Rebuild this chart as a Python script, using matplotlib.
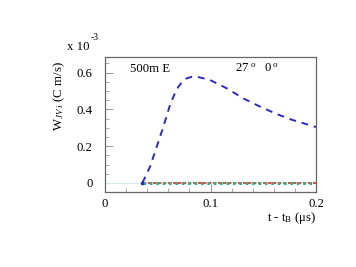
import matplotlib
matplotlib.use("Agg")
import matplotlib.pyplot as plt
from matplotlib.ticker import MultipleLocator, FixedLocator

plt.rcParams['font.family'] = ['Liberation Serif', 'DejaVu Serif']
plt.rcParams['mathtext.fontset'] = 'custom'
plt.rcParams['mathtext.rm'] = 'Liberation Serif'
plt.rcParams['mathtext.it'] = 'Liberation Serif:italic'

# data (units of 1e-3 C m/s), time in microseconds
t_blue = [0.0354, 0.0427, 0.049, 0.0553, 0.0616, 0.0655, 0.0695, 0.0735, 0.0774, 0.082,
          0.0869, 0.0995, 0.1153, 0.131, 0.147, 0.1627, 0.178, 0.199, 0.2]
w_blue = [0.0, 0.089, 0.197, 0.306, 0.424, 0.478, 0.523, 0.552, 0.569, 0.577,
          0.578, 0.560, 0.515, 0.460, 0.415, 0.375, 0.342, 0.306, 0.304]
t_flat = [0.036, 0.2]
w_green = [0.0, 0.0]
w_red = [0.0, 0.0]
t_pre = [0.0, 0.035]
w_pre = [0.0, 0.0]

FS = 9.2
fig = plt.figure(figsize=(3.56, 2.67), dpi=100)
ax = fig.add_axes([105/356, 1-192/267, (316-105)/356, (192-57)/267])

ax.plot(t_pre, w_pre, color='#d4ecec', lw=0.8)
ax.plot(t_flat, w_red, color='#e8232a', lw=1.2, ls=(0, (2.0, 1.0)))
ax.plot(t_flat, w_green, color='#33b27a', lw=2.3, ls=(0, (0.8, 1.2)), dash_capstyle='butt')
ax.plot(t_blue, w_blue, color='#2a2ac8', lw=1.4, ls=(0, (3.5, 3)))
ax.plot([t_blue[0]], [w_blue[0]], 's', color='#2a2ac8', ms=2)

ax.set_xlim(0, 0.2)
ax.set_ylim(-0.049, 0.685)
ax.xaxis.set_major_locator(FixedLocator([0, 0.1, 0.2]))
ax.xaxis.set_minor_locator(MultipleLocator(0.02))
ax.yaxis.set_major_locator(FixedLocator([0, 0.2, 0.4, 0.6]))
ax.yaxis.set_minor_locator(MultipleLocator(0.05))
ax.set_xticklabels(['0', '0.1', '0.2'])
ax.set_yticklabels(['0', '0.2', '0.4', '0.6'])
ax.tick_params(which='both', direction='in', top=False, right=False, color='#888888', labelsize=FS)
ax.tick_params(axis='y', pad=9)
ax.tick_params(axis='x', pad=4)
ax.tick_params(which='major', length=6, width=0.6)
ax.tick_params(which='minor', length=3, width=0.5)
for s in ax.spines.values():
    s.set_color('#666666')
    s.set_linewidth(0.9)

fig.text(130/356, 1-69/267, '500m E', ha='left', va='center', fontsize=FS)
fig.text(235/356, 1-69/267, r'27$^{\rm\ o}$   0$^{\rm\ o}$', ha='left', va='center', fontsize=FS)

fig.text(59/356, 1-96/267, r'W$_{\it JV\ i}$ (C m/s)', rotation=90, ha='center', va='center', fontsize=FS)
fig.text(67/356, 1-47/267, 'x 10', ha='left', va='center', fontsize=FS)
fig.text(91/356, 1-37/267, '-3', ha='left', va='center', fontsize=FS*0.75)
fig.text(316/356, 1-218/267, r't - t$_{\rm B}$ (μs)', ha='right', va='center', fontsize=FS)

fig.savefig('out.png', dpi=100)
